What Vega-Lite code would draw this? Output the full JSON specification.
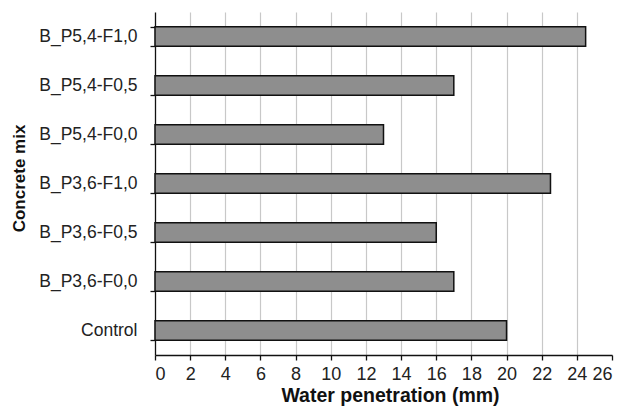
{
  "$schema": "https://vega.github.io/schema/vega-lite/v6.json",
  "width": 457,
  "height": 343,
  "autosize": {"type": "none"},
  "padding": {"left": 155, "top": 12, "right": 11, "bottom": 57},
  "background": "white",
  "data": {
    "values": [
      {"mix": "B_P5,4-F1,0", "value": 24.5},
      {"mix": "B_P5,4-F0,5", "value": 17},
      {"mix": "B_P5,4-F0,0", "value": 13},
      {"mix": "B_P3,6-F1,0", "value": 22.5},
      {"mix": "B_P3,6-F0,5", "value": 16},
      {"mix": "B_P3,6-F0,0", "value": 17},
      {"mix": "Control", "value": 20}
    ]
  },
  "config": {
    "view": {"stroke": null},
    "axis": {
      "labelFont": "Liberation Sans",
      "titleFont": "Liberation Sans",
      "labelColor": "#222222",
      "titleColor": "#111111",
      "domainColor": "#111111",
      "tickColor": "#111111",
      "domainWidth": 1.3,
      "tickWidth": 1.3
    }
  },
  "mark": {"type": "bar", "fill": "#8e8e8e", "stroke": "#111111", "strokeWidth": 1.5},
  "encoding": {
    "y": {
      "field": "mix",
      "type": "nominal",
      "sort": ["B_P5,4-F1,0", "B_P5,4-F0,5", "B_P5,4-F0,0", "B_P3,6-F1,0", "B_P3,6-F0,5", "B_P3,6-F0,0", "Control"],
      "scale": {"paddingInner": 0.6, "paddingOuter": 0.3},
      "axis": {
        "title": "Concrete mix",
        "titleFontWeight": "bold",
        "titleFontSize": 17,
        "labelFontSize": 17.5,
        "tickBand": "extent",
        "tickSize": 5,
        "labelPadding": 13,
        "titlePadding": 10,
        "titleY": 166,
        "grid": false
      }
    },
    "x": {
      "field": "value",
      "type": "quantitative",
      "scale": {"domain": [0, 26], "nice": false},
      "axis": {
        "title": "Water penetration (mm)",
        "titleFontWeight": "bold",
        "titleFontSize": 19.5,
        "labelFontSize": 18,
        "values": [0, 2, 4, 6, 8, 10, 12, 14, 16, 18, 20, 22, 24, 26],
        "tickSize": 5,
        "labelPadding": 5,
        "titlePadding": 3,
        "titleX": 235,
        "grid": true,
        "gridColor": "#c8c8c8",
        "gridWidth": 1.2,
        "gridOpacity": {"condition": {"test": "datum.value == 26 || datum.value == 0", "value": 0}, "value": 1}
      }
    }
  }
}
